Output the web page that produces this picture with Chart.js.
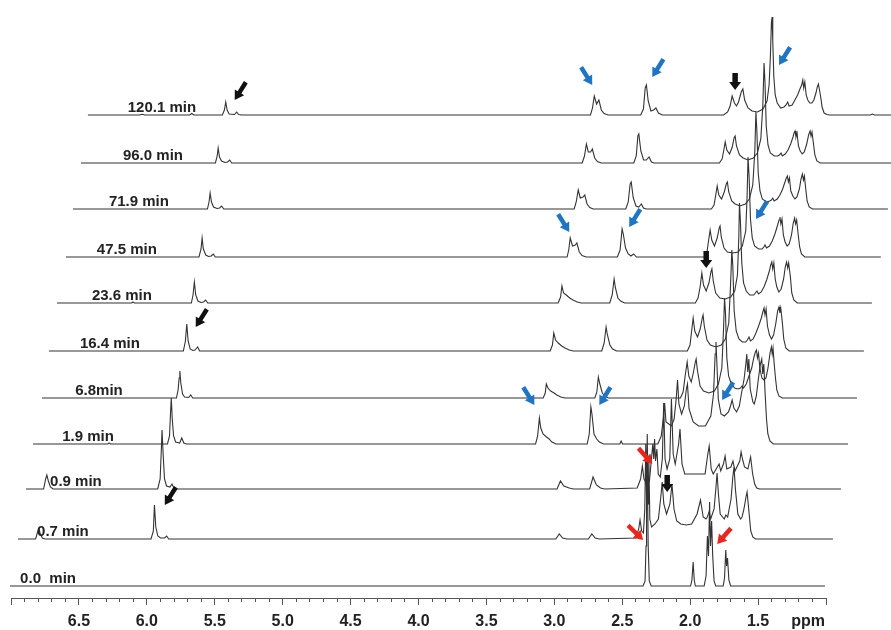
<!DOCTYPE html>
<html>
<head>
<meta charset="utf-8">
<script src="https://cdn.jsdelivr.net/npm/chart.js@4/dist/chart.umd.min.js"></script>
<style>
html,body{margin:0;padding:0;background:#fff;}
#wrap{width:891px;height:630px;position:relative;}
</style>
</head>
<body>
<div id="wrap"><canvas id="c" width="891" height="630"></canvas></div>
<script>
// ---------------- DATA (ppm, intensity) ----------------
const traceLabels = ["0.0  min","0.7 min","0.9 min","1.9 min","6.8min","16.4 min","23.6 min","47.5 min","71.9 min","96.0 min","120.1 min"];
const axisTickLabels = ["6.5","6.0","5.5","5.0","4.5","4.0","3.5","3.0","2.5","2.0","1.5"];
const axisUnit = "ppm";

const spec_0_0 = [[7.0,0],[2.34,0],[2.325,5],[2.318,40],[2.314,90],[2.310,105],[2.306,88],[2.302,40],[2.294,5],[2.28,0],
 [1.99,0],[1.98,6],[1.971,24],[1.963,6],[1.955,0],
 [1.89,0],[1.876,10],[1.866,50],[1.858,30],[1.850,84],[1.843,40],[1.835,65],[1.827,30],[1.817,5],[1.805,0],
 [1.75,0],[1.74,8],[1.731,36],[1.725,20],[1.718,28],[1.708,6],[1.695,0],[1.0,0]];

const spec_0_7 = [[7.0,0],[6.87,0],[6.855,7],[6.846,10],[6.835,5],[6.82,1],[6.80,0],
 [6.02,0],[6.003,8],[5.995,34],[5.985,12],[5.97,3],[5.95,1],[5.92,1],[5.905,3],[5.89,0],
 [3.04,0],[3.015,5],[2.99,1],[2.96,0],[2.80,0],[2.775,5],[2.75,1],[2.72,0],
 [2.45,1],[2.43,10],[2.42,19],[2.408,8],[2.395,6],[2.385,30],[2.378,95],[2.372,40],[2.367,105],[2.361,35],[2.355,80],[2.348,20],[2.335,12],[2.31,15],
 [2.285,20],[2.265,45],[2.257,57],[2.245,35],[2.225,25],[2.20,35],[2.185,55],[2.17,30],[2.15,18],[2.12,15],[2.08,14],[2.04,15],
 [2.00,25],[1.975,39],[1.955,22],[1.935,20],[1.925,22],[1.912,27],[1.90,20],
 [1.875,30],[1.862,50],[1.853,66],[1.843,45],[1.83,25],[1.80,20],[1.788,24],[1.775,22],
 [1.75,40],[1.737,62],[1.728,72],[1.718,50],[1.70,25],[1.68,20],[1.669,22],[1.655,30],
 [1.64,42],[1.632,47],[1.62,30],[1.605,8],[1.59,2],[1.57,0],[1.0,0]];

const spec_0_9 = [[7.0,0],[6.87,0],[6.855,10],[6.846,14],[6.835,8],[6.82,2],[6.80,0],
 [6.03,0],[6.012,10],[6.003,40],[5.998,59],[5.99,35],[5.98,10],[5.965,3],[5.94,2],[5.925,5],[5.91,1],[5.89,0],
 [3.09,0],[3.065,8],[3.04,3],[3.0,1],[2.97,0],[2.85,0],[2.825,12],[2.80,4],[2.77,1],[2.74,0],
 [2.50,1],[2.475,10],[2.462,23],[2.45,10],[2.43,5],[2.41,8],[2.395,30],[2.385,45],[2.378,30],[2.372,50],[2.365,28],[2.355,40],[2.345,15],
 [2.33,12],[2.315,30],[2.305,86],[2.295,30],[2.28,20],[2.26,30],[2.248,90],[2.235,35],[2.22,25],[2.195,45],[2.185,60],[2.17,25],[2.15,15],
 [2.00,15],[1.98,35],[1.97,43],[1.955,20],[1.94,15],[1.91,22],[1.897,25],[1.885,18],[1.865,25],[1.853,33],[1.84,20],
 [1.81,22],[1.795,28],[1.78,18],[1.745,28],[1.735,37],[1.725,30],[1.71,22],[1.685,20],[1.665,32],[1.65,15],[1.635,5],[1.62,1],[1.60,0],[1.0,0]];

const spec_1_9 = [[7.0,0],[6.45,0],[6.44,1],[6.43,0],
 [6.01,0],[5.995,8],[5.988,30],[5.982,46],[5.975,25],[5.965,8],[5.95,2],[5.92,1],[5.905,6],[5.89,1],[5.87,0],
 [3.30,0],[3.285,8],[3.272,26],[3.262,16],[3.245,10],[3.22,7],[3.20,5],[3.18,2],[3.15,0],
 [2.92,0],[2.905,10],[2.893,37],[2.885,30],[2.87,10],[2.85,5],[2.83,2],[2.80,0],[2.68,0],[2.67,3],[2.66,0],
 [2.40,0],[2.375,8],[2.36,25],[2.35,41],[2.34,22],[2.30,18],[2.28,25],[2.265,45],[2.255,64],[2.245,40],[2.225,30],[2.205,38],[2.19,55],[2.182,60],[2.17,35],[2.14,22],[2.10,18],[2.05,18],
 [2.01,28],[1.99,50],[1.978,90],[1.972,102],[1.965,80],[1.955,45],[1.935,30],[1.91,28],[1.88,32],[1.865,38],[1.853,44],[1.84,36],[1.82,32],
 [1.80,38],[1.785,50],[1.765,65],[1.752,80],[1.745,90],[1.738,72],[1.73,85],[1.72,55],[1.70,42],[1.69,40],[1.675,48],[1.66,65],[1.645,80],[1.635,85],[1.628,70],[1.62,80],[1.61,50],[1.60,25],[1.59,10],[1.575,3],[1.55,0],[1.0,0]];

const spec_6_8 = [[7.0,0],[6.01,0],[5.998,8],[5.99,20],[5.985,27],[5.978,15],[5.965,4],[5.95,1],[5.92,0.5],[5.905,3],[5.89,0],
 [3.31,0],[3.295,5],[3.287,14],[3.275,10],[3.255,7],[3.23,5],[3.21,3],[3.18,1],[3.15,0],
 [2.93,0],[2.915,6],[2.904,21],[2.893,14],[2.875,5],[2.855,2],[2.83,0],
 [2.30,0],[2.28,6],[2.265,22],[2.25,36],[2.238,22],[2.22,16],[2.205,25],[2.19,36],[2.184,39],[2.175,28],[2.155,12],[2.13,7],[2.09,5],[2.05,7],
 [2.02,14],[1.995,30],[1.982,70],[1.975,100],[1.968,85],[1.958,40],[1.945,22],[1.925,14],[1.90,10],[1.875,9],[1.858,10],[1.846,12],[1.835,10],
 [1.815,14],[1.795,22],[1.775,30],[1.76,40],[1.748,46],[1.74,48],[1.733,40],[1.725,45],[1.715,30],[1.70,20],[1.685,18],[1.67,20],[1.655,30],[1.64,45],[1.63,51],[1.624,44],[1.618,50],[1.61,35],[1.60,20],[1.59,8],[1.575,2],[1.55,0],[1.0,0]];

const spec_16_4 = [[7.0,0],[6.01,0],[5.995,10],[5.985,27],[5.975,10],[5.96,2],[5.94,0.5],[5.925,1],[5.905,4],[5.89,0],
 [3.31,0],[3.293,6],[3.283,18],[3.27,11],[3.25,8],[3.225,5],[3.20,3],[3.17,1],[3.14,0],
 [2.93,0],[2.912,8],[2.898,24],[2.888,16],[2.87,6],[2.85,2],[2.82,0],
 [2.30,0],[2.28,6],[2.27,18],[2.257,33],[2.245,20],[2.225,14],[2.205,22],[2.19,33],[2.184,36],[2.175,25],[2.155,11],[2.13,6],[2.09,4],[2.05,6],
 [2.02,12],[1.995,28],[1.982,65],[1.972,101],[1.965,85],[1.955,40],[1.94,20],[1.92,12],[1.895,9],[1.87,9],[1.858,11],[1.846,14],[1.835,10],
 [1.815,12],[1.795,18],[1.775,25],[1.755,33],[1.742,40],[1.735,43],[1.728,36],[1.72,42],[1.71,25],[1.695,16],[1.68,12],[1.665,16],[1.648,28],[1.635,40],[1.625,44],[1.618,38],[1.612,43],[1.60,28],[1.59,12],[1.575,3],[1.55,0],[1.0,0]];

const spec_23_6 = [[7.0,0],[6.45,0],[6.44,1],[6.43,0],[6.01,0],[5.998,8],[5.988,21],[5.978,8],[5.962,2],[5.94,0.5],[5.92,1],[5.905,3],[5.89,0],
 [3.31,0],[3.292,6],[3.282,17],[3.27,10],[3.25,8],[3.225,5],[3.20,3],[3.17,1],[3.14,0],
 [2.93,0],[2.912,8],[2.898,24],[2.888,15],[2.87,5],[2.85,2],[2.82,0],
 [2.30,0],[2.28,5],[2.265,16],[2.252,30],[2.24,18],[2.22,12],[2.20,20],[2.185,31],[2.178,34],[2.168,22],[2.15,10],[2.12,5],[2.08,4],[2.04,6],
 [2.01,12],[1.99,28],[1.98,65],[1.975,100],[1.968,82],[1.958,40],[1.945,20],[1.925,12],[1.90,8],[1.87,8],[1.858,10],[1.846,12],[1.835,9],
 [1.815,11],[1.795,16],[1.775,23],[1.755,32],[1.745,38],[1.737,41],[1.73,34],[1.722,40],[1.712,24],[1.70,16],[1.685,11],[1.668,14],[1.65,24],[1.638,36],[1.628,41],[1.62,35],[1.613,40],[1.60,26],[1.59,10],[1.575,3],[1.55,0],[1.0,0]];

const spec_47_5 = [[7.0,0],[6.02,0],[6.005,8],[5.997,19],[5.988,8],[5.97,2],[5.95,0.5],[5.93,1],[5.915,3],[5.90,0],
 [3.31,0],[3.298,7],[3.287,19],[3.27,11],[3.25,12],[3.238,14],[3.22,5],[3.20,1.5],[3.17,0],
 [2.94,0],[2.92,7],[2.905,28],[2.895,22],[2.88,9],[2.86,3],[2.84,1],[2.82,3],[2.80,0],
 [2.30,0],[2.28,5],[2.27,15],[2.257,27],[2.245,17],[2.225,11],[2.205,19],[2.19,29],[2.184,31],[2.175,20],[2.155,9],[2.13,5],[2.09,4],[2.05,5],
 [2.02,11],[1.995,26],[1.985,60],[1.978,100],[1.97,80],[1.96,38],[1.947,19],[1.93,11],[1.90,8],[1.875,8],[1.862,10],[1.853,12],[1.842,9],
 [1.82,11],[1.80,16],[1.78,23],[1.76,32],[1.75,37],[1.743,40],[1.736,33],[1.728,38],[1.718,22],[1.705,15],[1.69,11],[1.675,13],[1.658,22],[1.645,34],[1.635,39],[1.628,33],[1.62,37],[1.61,24],[1.598,10],[1.585,3],[1.56,0],[1.0,0]];

const spec_71_9 = [[7.0,0],[6.01,0],[5.998,7],[5.99,16],[5.98,7],[5.965,2],[5.94,0.5],[5.92,1],[5.905,3],[5.89,0],
 [3.31,0],[3.295,7],[3.28,19],[3.265,11],[3.245,12],[3.232,14],[3.215,5],[3.195,1.5],[3.17,0],
 [2.93,0],[2.912,7],[2.898,25],[2.89,27],[2.875,11],[2.855,3],[2.835,2],[2.815,5],[2.80,1],[2.78,0],
 [2.30,0],[2.28,4],[2.27,12],[2.257,23],[2.245,14],[2.225,10],[2.205,17],[2.19,25],[2.182,27],[2.172,17],[2.15,8],[2.125,5],[2.09,3],[2.05,5],
 [2.02,10],[1.995,24],[1.98,58],[1.972,97],[1.965,78],[1.955,36],[1.942,18],[1.925,10],[1.895,7],[1.87,8],[1.858,9],[1.848,11],[1.838,8],
 [1.815,10],[1.795,14],[1.775,20],[1.758,27],[1.748,31],[1.74,33],[1.733,27],[1.725,31],[1.715,18],[1.70,13],[1.685,10],[1.67,12],[1.652,20],[1.64,30],[1.63,35],[1.622,29],[1.615,33],[1.605,20],[1.595,8],[1.58,2],[1.555,0],[1.0,0]];

const spec_96_0 = [[7.0,0],[6.01,0],[5.997,7],[5.99,15],[5.98,6],[5.965,2],[5.94,0.5],[5.92,1],[5.905,3],[5.89,0],
 [3.31,0],[3.293,7],[3.279,19],[3.265,11],[3.248,11],[3.235,14],[3.218,5],[3.198,1.5],[3.17,0],
 [2.93,0],[2.912,7],[2.90,27],[2.893,29],[2.878,12],[2.858,3],[2.838,3],[2.818,6],[2.80,1],[2.78,0],
 [2.30,0],[2.28,4],[2.27,11],[2.257,21],[2.245,13],[2.225,9],[2.205,16],[2.192,25],[2.184,27],[2.174,17],[2.152,8],[2.125,5],[2.09,3],[2.05,5],
 [2.02,10],[1.995,24],[1.98,58],[1.971,100],[1.964,80],[1.955,37],[1.942,18],[1.925,10],[1.895,7],[1.87,7],[1.858,8],[1.846,10],[1.836,7],
 [1.815,9],[1.795,13],[1.775,19],[1.758,26],[1.75,30],[1.743,32],[1.736,26],[1.728,30],[1.718,17],[1.705,12],[1.69,9],[1.675,11],[1.657,19],[1.643,28],[1.632,32],[1.625,27],[1.618,31],[1.607,19],[1.597,8],[1.582,2],[1.557,0],[1.0,0]];

const spec_120_1 = [[7.0,0],[6.62,0],[6.60,0.8],[6.58,0],[6.25,0],[6.235,1.5],[6.22,0],
 [6.01,0],[5.995,5],[5.985,13],[5.975,5],[5.96,1],[5.92,0.5],[5.905,3],[5.89,0.5],[5.87,0],
 [3.30,0],[3.285,7],[3.272,19],[3.255,11],[3.238,15],[3.22,5],[3.20,1.5],[3.17,0],
 [2.93,0],[2.91,6],[2.897,27],[2.888,30],[2.875,14],[2.855,4],[2.835,5],[2.818,7],[2.80,2],[2.77,0],
 [2.32,0],[2.29,3],[2.272,9],[2.257,19],[2.24,12],[2.225,9],[2.21,13],[2.19,23],[2.178,26],[2.165,15],[2.14,7],[2.11,4],[2.07,3],[2.03,6],
 [2.00,14],[1.985,30],[1.975,60],[1.968,92],[1.963,98],[1.958,75],[1.95,38],[1.94,20],[1.925,12],[1.90,7],[1.875,8],[1.86,10],[1.848,13],[1.838,9],
 [1.815,10],[1.795,15],[1.775,20],[1.755,27],[1.745,30],[1.737,35],[1.73,27],[1.722,33],[1.712,20],[1.70,15],[1.685,12],[1.67,12],[1.655,15],[1.64,22],[1.63,28],[1.622,31],[1.615,26],[1.605,18],[1.595,8],[1.58,2],[1.56,0.5],[1.54,0],
 [1.24,0],[1.225,1],[1.21,0],[1.0,0]];

const spectra = [spec_0_0, spec_0_7, spec_0_9, spec_1_9, spec_6_8, spec_16_4, spec_23_6, spec_47_5, spec_71_9, spec_96_0, spec_120_1];

// arrows: tip position on the ppm axis / intensity axis, direction (deg, screen), colour key
const arrowPpm    = [2.721, 2.279, 1.346, 2.890, 2.449, 1.515, 3.147, 2.669, 1.765, 5.353, 1.669, 5.640, 1.882, 5.868, 2.169, 2.279, 2.346, 1.801];
const arrowHeight = [513,   521,   533,   366,   371,   379,   193,   193,   198,   498,   508,   271,   330,   93,    106,   134,   58,    54];
const arrowDir    = [58,    122,   122,   58,    122,   122,   58,    122,   122,   122,   90,    122,   90,    122,   90,    49,    44,    131];
const arrowKind   = ["b","b","b","b","b","b","b","b","b","k","k","k","k","k","k","r","r","r"];

// ---------------- LAYOUT (stacking of the traces) ----------------
const stackShiftPpm = [-0.007, 0.051, 0.110, 0.162, 0.228, 0.279, 0.338, 0.404, 0.456, 0.515, 0.566];
const stackOffset   = [12, 59, 109, 154, 200, 247, 295, 341, 389, 435, 483];
const labelCenterDx = [38, 45, 50, 55, 57, 61, 65, 61, 66, 72, 74];

const FONT = '"Liberation Sans", Arial, Helvetica, sans-serif';
const arrowColors = {b: '#1f74c4', k: '#111111', r: '#e8261e'};

const datasets = spectra.map((sp, i) => ({
  label: traceLabels[i],
  data: sp.map(([p, h]) => ({x: p - stackShiftPpm[i], y: h + stackOffset[i]})),
  borderColor: '#333333',
  borderWidth: 1.1,
  pointRadius: 0,
  tension: 0,
  fill: false,
  clip: false,
  order: i
}));

const decor = {
  id: 'decor',
  afterDatasetsDraw(chart) {
    const ctx = chart.ctx;
    const xs = chart.scales.x, ys = chart.scales.y;
    ctx.save();
    // trace labels
    ctx.fillStyle = '#222';
    ctx.font = 'bold 15px ' + FONT;
    ctx.textAlign = 'center';
    ctx.textBaseline = 'alphabetic';
    traceLabels.forEach((t, i) => {
      const x0 = xs.getPixelForValue(7.0 - stackShiftPpm[i]);
      const yb = ys.getPixelForValue(stackOffset[i]);
      ctx.fillText(t, x0 + labelCenterDx[i], yb - 3.5);
    });
    // unit label
    ctx.font = 'bold 16px ' + FONT;
    ctx.textAlign = 'right';
    ctx.textBaseline = 'middle';
    ctx.fillText(axisUnit, xs.getPixelForValue(1.0) - 1, xs.top + 24);
    // arrows
    arrowPpm.forEach((p, i) => {
      const tx = xs.getPixelForValue(p), ty = ys.getPixelForValue(arrowHeight[i]);
      const a = arrowDir[i] * Math.PI / 180;
      const vertical = arrowDir[i] === 90;
      const L = vertical ? 17 : 21, sw = vertical ? 5.5 : 4.5, hw = vertical ? 12 : 11, hl = vertical ? 8 : 9;
      const ux = Math.cos(a), uy = Math.sin(a), nx = -uy, ny = ux;
      const bx = tx - hl * ux, by = ty - hl * uy;
      const sx = tx - L * ux, sy = ty - L * uy;
      ctx.beginPath();
      ctx.moveTo(sx + nx * sw / 2, sy + ny * sw / 2);
      ctx.lineTo(bx + nx * sw / 2, by + ny * sw / 2);
      ctx.lineTo(bx + nx * hw / 2, by + ny * hw / 2);
      ctx.lineTo(tx, ty);
      ctx.lineTo(bx - nx * hw / 2, by - ny * hw / 2);
      ctx.lineTo(bx - nx * sw / 2, by - ny * sw / 2);
      ctx.lineTo(sx - nx * sw / 2, sy - ny * sw / 2);
      ctx.closePath();
      ctx.fillStyle = arrowColors[arrowKind[i]];
      ctx.fill();
    });
    ctx.restore();
  }
};

const isMajor = v => Math.abs(v * 2 - Math.round(v * 2)) < 1e-6;

new Chart(document.getElementById('c'), {
  type: 'line',
  data: {datasets},
  options: {
    responsive: false,
    animation: false,
    events: [],
    layout: {padding: {left: 11, right: 65, top: 0, bottom: 0}},
    plugins: {legend: {display: false}, tooltip: {enabled: false}},
    scales: {
      x: {
        type: 'linear',
        reverse: true,
        min: 1.0,
        max: 7.0,
        position: 'bottom',
        afterFit: s => { s.height = 32; },
        border: {display: true, color: '#555', width: 1},
        grid: {
          drawOnChartArea: false,
          drawTicks: true,
          tickLength: 7,
          color: '#555',
          tickBorderDash: c => (c.tick && isMajor(c.tick.value)) ? [] : [3, 40]
        },
        ticks: {
          stepSize: 0.1,
          autoSkip: false,
          maxRotation: 0,
          padding: 7,
          color: '#222',
          font: {family: FONT, size: 16, weight: 'bold', lineHeight: 1.2},
          callback: v => {
            const s = Number(v).toFixed(1);
            return (isMajor(v) && axisTickLabels.includes(s)) ? s : '';
          }
        }
      },
      y: {display: false, min: 0, max: 598}
    }
  },
  plugins: [decor]
});
</script>
</body>
</html>
